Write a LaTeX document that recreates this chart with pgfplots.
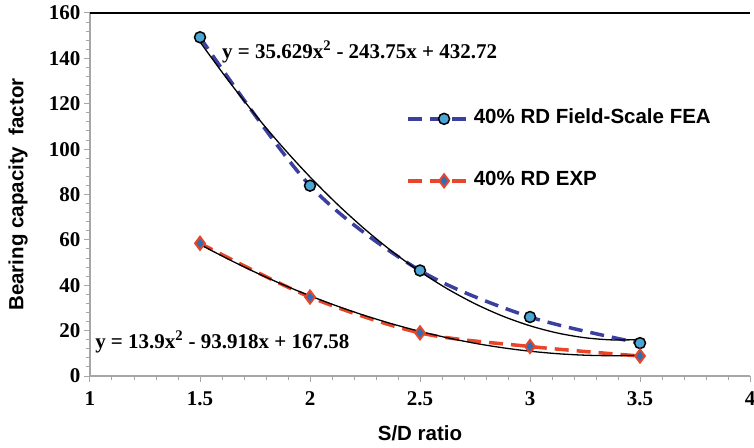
\documentclass[border=0pt]{standalone}
\usepackage{fontspec}
\setmainfont{Liberation Serif}
\setsansfont{Liberation Sans}
\usepackage{pgfplots}
\pgfplotsset{compat=1.18}
\definecolor{feablue}{HTML}{3B3FA0}
\definecolor{feafill}{HTML}{4BA6D6}
\definecolor{expred}{HTML}{E8462A}
\definecolor{expfill}{HTML}{2E6FB5}
\definecolor{axgray}{HTML}{A6A6A6}

\begin{document}
\begin{tikzpicture}
\begin{axis}[
  at={(0,0)},anchor=south west,
  scale only axis,width=660pt,height=363pt,
  xmin=1,xmax=4,ymin=0,ymax=160,
  xtick={1,1.5,2,2.5,3,3.5,4},ytick={0,20,40,60,80,100,120,140,160},
  xticklabel={\textbf{\pgfmathprintnumber[assume math mode=true]{\tick}}},
  yticklabel={\textbf{\pgfmathprintnumber[assume math mode=true]{\tick}}},
  minor x tick num=4,minor y tick num=4,
  axis x line*=bottom,axis y line*=left,
  axis line style={axgray,line width=1.2pt,-},
  every tick/.style={axgray,line width=1pt},
  tick align=outside,major tick length=6pt,minor tick length=4pt,
  tick label style={font=\fontsize{21}{24}\selectfont\rmfamily\bfseries},
  xticklabel style={yshift=-6pt},
  label style={font=\fontsize{20.5}{24}\selectfont\sffamily\bfseries},
  xlabel={S/D ratio},ylabel={Bearing capacity \ factor},
  xlabel style={at={(axis description cs:0.5,-0.157)},anchor=center},
  ylabel style={at={(axis description cs:-0.109,0.5)},anchor=center},
  clip=false,
  legend style={draw=none,fill=none,at={(0.479,0.623)},anchor=west,
    inner sep=0pt,row sep=44pt,
    font=\fontsize{20.5}{24}\selectfont\sffamily\bfseries,
    nodes={inner sep=0pt,text height=14pt,text depth=4pt}},
  legend cell align=left,
  /tikz/every even column/.append style={column sep=10pt},
  legend image code/.code={
    \draw[#1,mark=none] (0pt,0pt) -- (64pt,0pt);
    \draw[#1,only marks] plot coordinates {(36pt,0pt)};
  },
]
\addplot[feablue,line width=3.5pt,dash pattern=on 14pt off 8pt,smooth,
  mark=*,mark size=5.5pt,
  mark options={solid,draw=black,fill=feafill,line width=1.5pt}]
  coordinates {(1.5,149.3) (2,83.9) (2.5,46.5) (3,26) (3.5,14.5)};
\addlegendentry{40\% RD Field-Scale FEA}
\addplot[expred,line width=3.5pt,dash pattern=on 14pt off 8pt,smooth,
  mark=diamond*,mark size=6.5pt,
  mark options={solid,draw=expred,fill=expfill,line width=2pt}]
  coordinates {(1.5,58.5) (2,34.8) (2.5,19) (3,13) (3.5,8.8)};
\addlegendentry{40\% RD EXP}
% polynomial trendlines, sampled from the printed equations
\addplot[black,line width=1.3pt,smooth,no marks,forget plot] coordinates {
  (1.5,147.26) (1.625,130.71) (1.75,115.27) (1.875,100.95) (2,87.74)
  (2.125,75.64) (2.25,64.65) (2.375,54.78) (2.5,46.03) (2.625,38.39)
  (2.75,31.85) (2.875,26.43) (3,22.13) (3.125,18.94) (3.25,16.86)
  (3.375,15.90) (3.5,16.05)};
\addplot[black,line width=1.3pt,smooth,no marks,forget plot] coordinates {
  (1.5,57.98) (1.625,51.67) (1.75,45.79) (1.875,40.35) (2,35.34)
  (2.125,30.77) (2.25,26.63) (2.375,22.93) (2.5,19.66) (2.625,16.83)
  (2.75,14.42) (2.875,12.46) (3,10.93) (3.125,9.83) (3.25,9.17)
  (3.375,8.94) (3.5,9.14)};
\node[anchor=west,inner sep=0pt,font=\fontsize{21}{24}\selectfont\bfseries]
  at (axis cs:1.6,142.8) {y = 35.629x\textsuperscript{2} - 243.75x + 432.72};
\node[anchor=west,inner sep=0pt,font=\fontsize{21}{24}\selectfont\bfseries]
  at (axis cs:1.023,15.1) {y = 13.9x\textsuperscript{2} - 93.918x + 167.58};
\draw[black,line width=2pt] (rel axis cs:0,1) -- (rel axis cs:1,1);
\end{axis}
\pgfresetboundingbox
\path (-90pt,-71pt) rectangle (664pt,376pt);
\end{tikzpicture}
\end{document}
